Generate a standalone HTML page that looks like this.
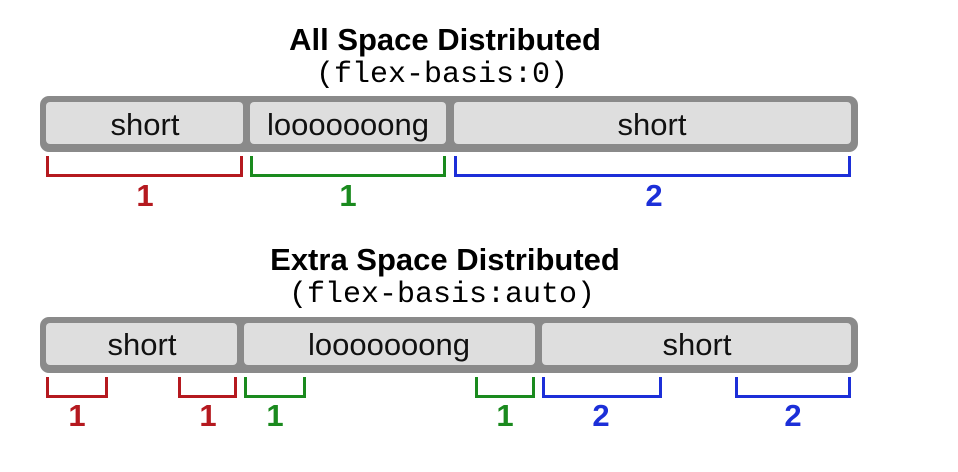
<!DOCTYPE html>
<html><head><style>
html,body{margin:0;padding:0;background:#fff;width:958px;height:472px;overflow:hidden}
svg{display:block}
.t{font-family:"Liberation Sans",Arial,sans-serif;font-weight:bold;font-size:31px;text-anchor:middle}
.m{font-family:"Liberation Mono",monospace;font-size:30px;text-anchor:middle}
.i{font-family:"Liberation Sans",Arial,sans-serif;font-size:31px;text-anchor:middle;fill:#111}
.n{font-family:"Liberation Sans",Arial,sans-serif;font-weight:bold;font-size:31px;text-anchor:middle}
</style></head><body>
<svg width="958" height="472" viewBox="0 0 958 472">
<text class="t" x="445" y="50">All Space Distributed</text>
<text class="m" x="442" y="82">(flex-basis:0)</text>
<rect x="40" y="96" width="818" height="56" rx="9" fill="#8a8a8a"/>
<rect x="46" y="102" width="197" height="42" rx="4" fill="#dedede"/>
<rect x="250" y="102" width="196" height="42" rx="4" fill="#dedede"/>
<rect x="454" y="102" width="397" height="42" rx="4" fill="#dedede"/>
<text class="i" x="145" y="135">short</text>
<text class="i" x="348" y="135">looooooong</text>
<text class="i" x="652" y="135">short</text>
<g fill="none" stroke-width="3">
<path d="M47.5 156V175.5H241.5V156" stroke="#b5191f"/>
<path d="M251.5 156V175.5H444.5V156" stroke="#1a8a1e"/>
<path d="M455.5 156V175.5H849.5V156" stroke="#1c2fd8"/>
</g>
<text class="n" x="145" y="206" fill="#b5191f">1</text>
<text class="n" x="348" y="206" fill="#1a8a1e">1</text>
<text class="n" x="654" y="206" fill="#1c2fd8">2</text>

<text class="t" x="445" y="270">Extra Space Distributed</text>
<text class="m" x="442" y="302">(flex-basis:auto)</text>
<rect x="40" y="317" width="818" height="56" rx="9" fill="#8a8a8a"/>
<rect x="46" y="323" width="191" height="42" rx="4" fill="#dedede"/>
<rect x="244" y="323" width="291" height="42" rx="4" fill="#dedede"/>
<rect x="542" y="323" width="309" height="42" rx="4" fill="#dedede"/>
<text class="i" x="142" y="355">short</text>
<text class="i" x="389" y="355">looooooong</text>
<text class="i" x="697" y="355">short</text>
<g fill="none" stroke-width="3">
<path d="M47.5 377V396.5H106.5V377" stroke="#b5191f"/>
<path d="M179.5 377V396.5H235.5V377" stroke="#b5191f"/>
<path d="M245.5 377V396.5H304.5V377" stroke="#1a8a1e"/>
<path d="M476.5 377V396.5H533.5V377" stroke="#1a8a1e"/>
<path d="M543.5 377V396.5H660.5V377" stroke="#1c2fd8"/>
<path d="M736.5 377V396.5H849.5V377" stroke="#1c2fd8"/>
</g>
<text class="n" x="77" y="426" fill="#b5191f">1</text>
<text class="n" x="208" y="426" fill="#b5191f">1</text>
<text class="n" x="275" y="426" fill="#1a8a1e">1</text>
<text class="n" x="505" y="426" fill="#1a8a1e">1</text>
<text class="n" x="601" y="426" fill="#1c2fd8">2</text>
<text class="n" x="793" y="426" fill="#1c2fd8">2</text>
</svg>
</body></html>
